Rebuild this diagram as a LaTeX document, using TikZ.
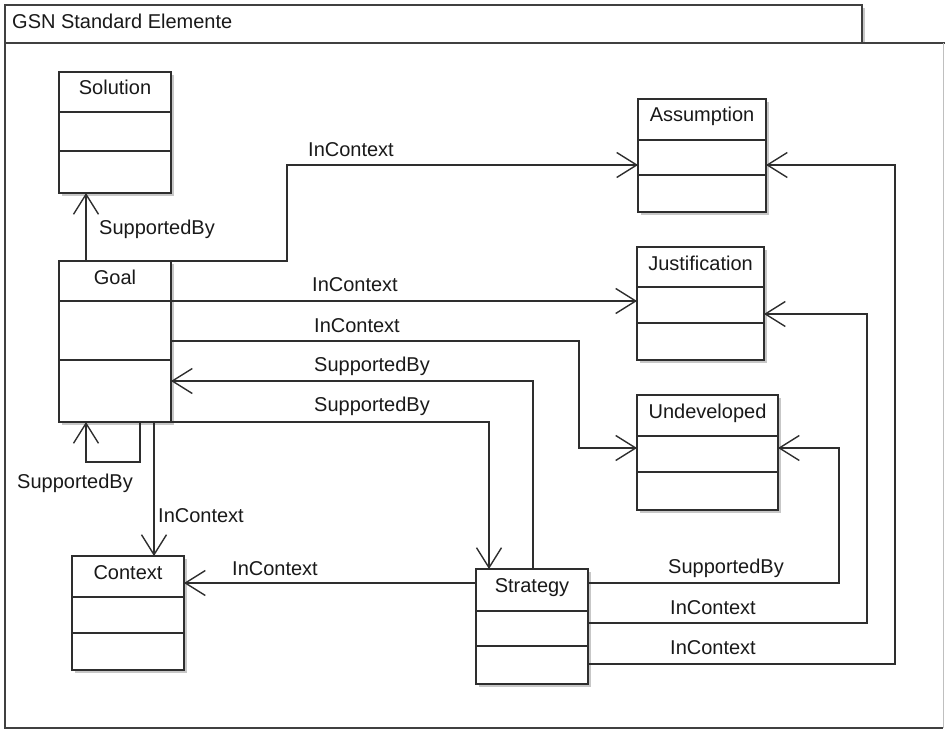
\documentclass[tikz,border=0pt]{standalone}
\usepackage{fontspec}
\setmainfont{Liberation Sans}
\usetikzlibrary{arrows.meta}
\newcommand\gsnbox[8]{%
  \fill[shade] (#2+3,#3+3) rectangle (#4+3,#5+3);
  \node[cls, anchor=north west, minimum width=#4pt-#2pt, minimum height=#5pt-#3pt] (#1) at (#2,#3) {};
  \draw[line] (#2,#6) -- (#4,#6);
  \draw[line] (#2,#7) -- (#4,#7);
  \node[anchor=base] (#1-t) at ({(#2+#4)/2},#3+23) {#8};
}
\begin{document}
\begin{tikzpicture}[x=1pt,y=-1pt,
  every node/.style={font=\fontsize{20}{24}\selectfont, text=black!90, inner sep=0pt},
  line/.style={draw=black!82, line width=1.4pt},
  conn/.style={line, -{Straight Barb[length=20pt,width=25pt]}},
  cls/.style={line, fill=white, rectangle, inner sep=0pt, outer sep=0pt},
  shade/.style={fill=black!22},
  framel/.style={draw=black!75, line width=1.2pt},
  lbl/.style={anchor=base west}]
\useasboundingbox (0,0) rectangle (945,730);
% frame
\fill[shade] (862,8) rectangle (865,43);
\draw[framel] (5,5) rectangle (862,43);
\draw[framel] (862,43) -- (945,43);
\draw[framel] (5,43) -- (5,728) -- (943,728);
\draw[draw=black!25, line width=1pt] (943,43) -- (943,728);
\node[lbl] (title) at (12,29) {GSN Standard Elemente};
% boxes
\gsnbox{sol}{59}{72}{171}{193}{112}{151}{Solution}
\gsnbox{goal}{59}{261}{171}{422}{301}{360}{Goal}
\gsnbox{asm}{638}{99}{766}{212}{140}{175}{Assumption}
\gsnbox{jus}{637}{247}{764}{360}{287}{323}{Justification}
\gsnbox{und}{637}{395}{778}{510}{436}{472}{Undeveloped}
\gsnbox{ctx}{72}{556}{184}{670}{597}{633}{Context}
\gsnbox{str}{476}{569}{588}{684}{611}{646}{Strategy}
% connectors
\draw[conn] (goal.north -| 86,0) -- (sol.south -| 86,0);
\node[lbl] (l1) at (99,234) {SupportedBy};
\draw[conn] (goal.north east) -| (287,165) -- (asm.west |- 0,165);
\node[lbl] (l2) at (308,157) {InContext};
\draw[conn] (goal.east |- 0,301) -- (jus.west |- 0,301);
\node[lbl] (l3) at (312,291) {InContext};
\draw[conn] (goal.east |- 0,341) -| (579,448) -- (und.west |- 0,448);
\node[lbl] (l4) at (314,332) {InContext};
\draw[conn] (str.north -| 533,0) |- (goal.east |- 0,381);
\node[lbl] (l5) at (314,371) {SupportedBy};
\draw[conn] (goal.south east) -| (str.north -| 489,0);
\node[lbl] (l6) at (314,411) {SupportedBy};
\coordinate (loopc) at (86,462);
\draw[conn] (goal.south -| 140,0) |- (loopc) -- (goal.south -| 86,0);
\node[lbl] (l7) at (17,488) {SupportedBy};
\draw[conn] (goal.south -| 154,0) -- (ctx.north -| 154,0);
\node[lbl] (l8) at (158,522) {InContext};
\draw[conn] (str.west |- 0,583) -- (ctx.east |- 0,583);
\node[lbl] (l9) at (232,575) {InContext};
\draw[conn] (str.east |- 0,583) -| (839,448) -- (und.east |- 0,448);
\node[lbl] (l10) at (668,573) {SupportedBy};
\draw[conn] (str.east |- 0,623) -| (867,314) -- (jus.east |- 0,314);
\node[lbl] (l11) at (670,614) {InContext};
\draw[conn] (str.east |- 0,664) -| (895,165) -- (asm.east |- 0,165);
\node[lbl] (l12) at (670,654) {InContext};
\end{tikzpicture}
\end{document}
